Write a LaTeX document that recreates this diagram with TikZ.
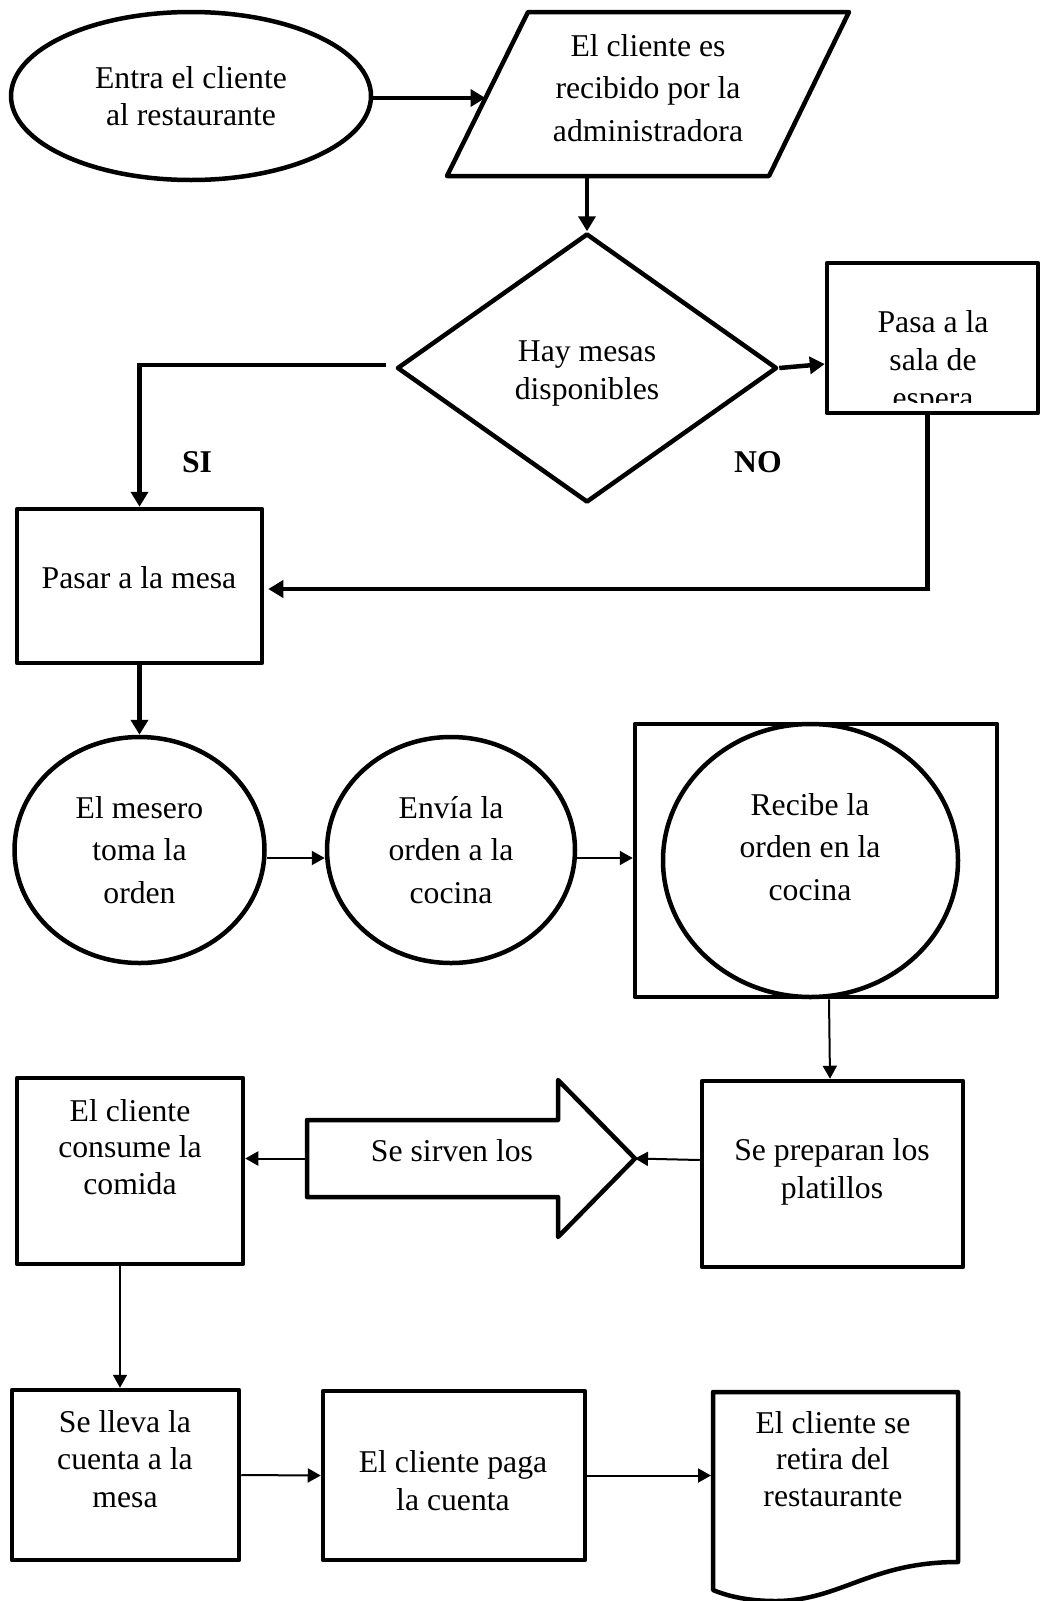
\documentclass[tikz,border=0pt]{standalone}
\usepackage{fontspec}
\setmainfont{Liberation Serif}
\usetikzlibrary{arrows.meta,shapes.geometric}

\tikzset{
  shp/.style={draw, line width=4.5pt, line join=round, fill=white, inner sep=0pt},
  txt/.style={align=center, inner sep=0pt, font=\fontsize{31.7}{38}\selectfont},
  txtw/.style={align=center, inner sep=0pt, font=\fontsize{31.7}{42.5}\selectfont},
  lbl/.style={inner sep=0pt, font=\fontsize{31.7}{38}\selectfont\bfseries},
  thickarrow/.style={line width=4.5pt, -{Triangle[length=15pt,width=17pt]}},
  thinarrow/.style={line width=2pt, -{Triangle[length=13pt,width=14pt]}},
}

\begin{document}
\begin{tikzpicture}[x=1pt,y=-1pt]
\useasboundingbox (0,0) rectangle (1040,1601);
\fill[white] (0,0) rectangle (1040,1601);

% --- top: entry and reception ---
\node[shp, ellipse, minimum width=360pt, minimum height=168pt, font=\fontsize{31.7}{37}\selectfont, align=center]
  (entra) at (191,96) {Entra el cliente\\al restaurante};

\draw[shp] (528,12) -- (849,12) -- (769,176) -- (447,176) -- cycle;
\node[txtw] (recv) at (648,88) {El cliente es\\recibido por la\\administradora};
\coordinate (recvin) at (485.5,98);
\coordinate (recvbot) at (587,176);

% --- decision ---
\node[shp, diamond, minimum width=380pt, minimum height=269pt] (dec) at (587,368) {};
\node[txt] (dectext) at (587,373) {Hay mesas\\disponibles};

\node[shp, rectangle, minimum width=211pt, minimum height=150pt] (pasa) at (932.5,338) {};
\begin{scope}
  \clip (830,266) rectangle (1035,402);
  \node[txt] (pasatext) at (933,363) {Pasa a la\\sala de\\espera};
\end{scope}

\node[lbl] (si) at (197,462) {SI};
\node[lbl] (no) at (758,462) {NO};

\node[shp, rectangle, minimum width=245pt, minimum height=154pt] (pasar) at (139.5,586) {};
\node[txt] (pasartext) at (139,578) {Pasar a la mesa};

% --- order row ---
\node[shp, ellipse, minimum width=250pt, minimum height=226pt, txtw] (m1) at (139.5,850) {El mesero\\toma la\\orden};
\node[shp, ellipse, minimum width=248pt, minimum height=226pt, txtw] (m2) at (451,850) {Envía la\\orden a la\\cocina};

\node[shp, rectangle, minimum width=362pt, minimum height=273pt] (kitchen) at (816,860.5) {};
\node[shp, ellipse, minimum width=295pt, minimum height=273pt] (kitchenoval) at (810.5,860.5) {};
\node[txtw] (kitchentext) at (810,847) {Recibe la\\orden en la\\cocina};

% --- serving row ---
\node[shp, rectangle, minimum width=261pt, minimum height=186pt] (prep) at (832.5,1174) {};
\node[txt] (preptext) at (832,1172) {Se preparan los\\platillos};

\node[inner sep=0pt, outer sep=0pt, minimum width=251pt, minimum height=77pt] (serve) at (432.5,1158.5) {};
\coordinate (servetip) at (635,1158.5);
\draw[shp] (serve.north west) -- (serve.north east) -- (558,1080) -- (servetip)
  -- (558,1237) -- (serve.south east) -- (serve.south west) -- cycle;
\node[txt] (servetext) at (452,1151) {Se sirven los};

\node[shp, rectangle, minimum width=226pt, minimum height=186pt] (consume) at (130,1171) {};
\node[txt, font=\fontsize{31.7}{36.5}\selectfont] (consumetext) at (130,1147) {El cliente\\consume la\\comida};

% --- bottom row ---
\node[shp, rectangle, minimum width=227pt, minimum height=170pt] (lleva) at (125.5,1475) {};
\node[txt, font=\fontsize{31.7}{37.5}\selectfont] (llevatext) at (125,1459) {Se lleva la\\cuenta a la\\mesa};

\node[shp, rectangle, minimum width=262pt, minimum height=169pt] (paga) at (454,1475.5) {};
\node[txt] (pagatext) at (453,1481) {El cliente paga\\la cuenta};

\node[inner sep=0pt, outer sep=2pt, minimum width=245pt, minimum height=198pt] (doc) at (835.5,1491) {};
\draw[shp] (713,1392) -- (958,1392) -- (958,1562)
  .. controls (870,1562) and (840,1601) .. (775,1601)
  .. controls (745,1601) and (725,1595) .. (713,1590) -- cycle;
\node[txt, font=\fontsize{31.7}{36.5}\selectfont] (doctext) at (833,1459) {El cliente se\\retira del\\restaurante};

% --- connectors ---
\draw[thickarrow] ([yshift=-2pt]entra.east) -- (recvin);
\draw[thickarrow] (recvbot) -- (dec.north);
\draw[thickarrow] ([xshift=-9pt,yshift=3pt]dec.west) -| (pasar.north);
\draw[thickarrow] (dec.east) -- ([yshift=-26pt]pasa.west);
\draw[thickarrow] ([xshift=-5pt]pasa.south) |- ([xshift=4pt,yshift=-3pt]pasar.east);
\draw[thickarrow] (pasar.south) -- (m1.north);

\draw[thinarrow] ([yshift=-8pt]m1.east) -- ([yshift=-8pt]m2.west);
\draw[thinarrow] ([yshift=-8pt]m2.east) -- ([yshift=-8pt]m2.east -| kitchen.west);
\draw[thinarrow] ([xshift=13pt]kitchen.south) -- ([xshift=-2.5pt]prep.north);
\draw[thinarrow] ([yshift=14pt]prep.west) -- (servetip);
\draw[thinarrow] (serve.west) -- (serve.west -| consume.east);
\draw[thinarrow] ([xshift=-10pt]consume.south) -- ([xshift=-5.5pt]lleva.north);
\draw[thinarrow] (lleva.east) -- (paga.west);
\draw[thinarrow] (paga.east) -- (paga.east -| doc.west);
\end{tikzpicture}
\end{document}
